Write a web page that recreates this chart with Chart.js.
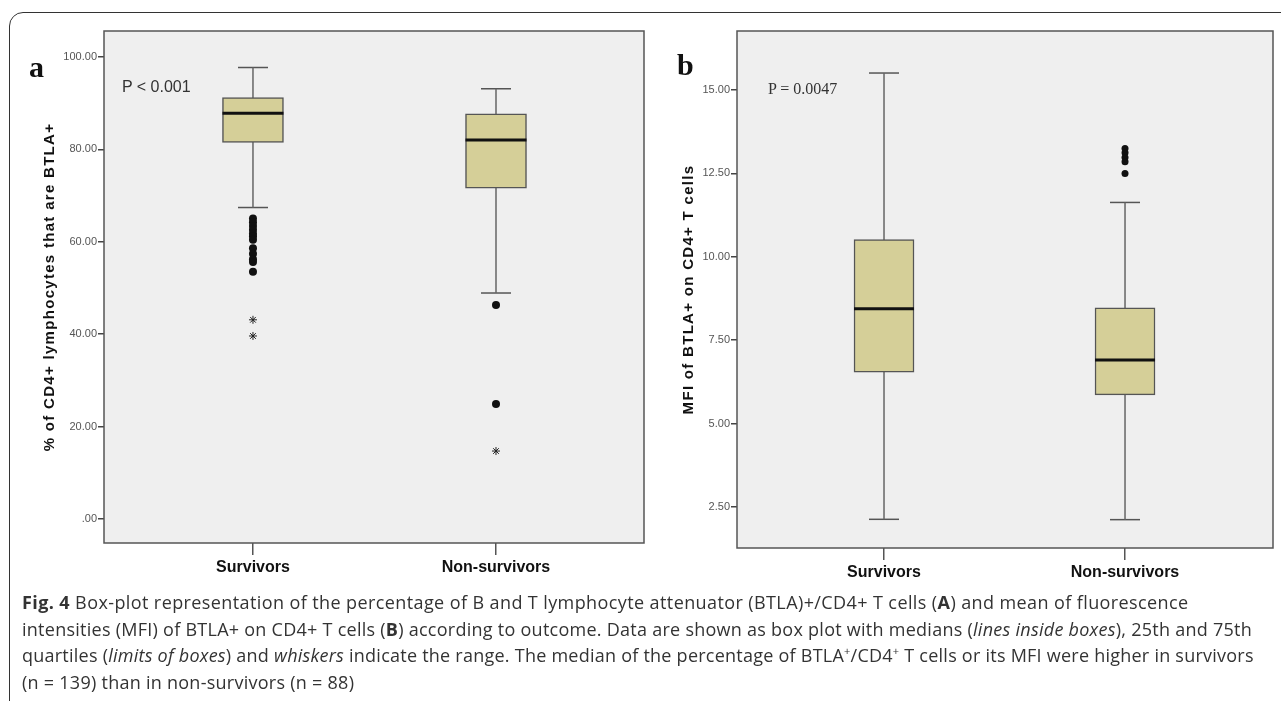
<!DOCTYPE html>
<html>
<head>
<meta charset="utf-8">
<script src="https://cdn.jsdelivr.net/npm/chart.js@4.4.1/dist/chart.umd.min.js"></script>
<style>
  html, body { margin: 0; padding: 0; background: #fff; }
  body { width: 1281px; height: 701px; position: relative; overflow: hidden; }
  .frame { position: absolute; left: 9px; top: 12px; width: 1300px; height: 720px;
           border: 1.5px solid #333; border-radius: 14px; box-sizing: border-box; }
  canvas { position: absolute; top: 0; }
  .panel { position: absolute; font-family: "Liberation Serif", "Times New Roman", serif; font-weight: bold; color: #111; }
  .pval { position: absolute; color: #333; }
  .caption { position: absolute; left: 22px; top: 589px; font-family: "Open Sans", "Noto Sans", sans-serif;
             font-size: 18px; letter-spacing: 0.26px; line-height: 26.6px; color: #333; white-space: nowrap; }
  .caption sup { font-size: 11px; line-height: 0; }
</style>
</head>
<body>
<div class="frame"></div>
<canvas id="chartA" width="660" height="590" style="left:0"></canvas>
<canvas id="chartB" width="641" height="590" style="left:640px"></canvas>

<div class="panel" style="left:29px; top:50px; font-size:30px;">a</div>
<div class="panel" style="left:677px; top:48px; font-size:30px;">b</div>
<div class="pval" style="left:122px; top:78px; font-family:'Liberation Sans', Arial, sans-serif; font-size:16px;">P &lt; 0.001</div>
<div class="pval" style="left:768px; top:80px; font-family:'Liberation Serif', 'Times New Roman', serif; font-size:16px;">P = 0.0047</div>

<div class="caption">
  <div style="letter-spacing:0.4px"><b>Fig. 4</b> Box-plot representation of the percentage of B and T lymphocyte attenuator (BTLA)+/CD4+ T cells (<b>A</b>) and mean of fluorescence</div>
  <div>intensities (MFI) of BTLA+ on CD4+ T cells (<b>B</b>) according to outcome. Data are shown as box plot with medians (<i>lines inside boxes</i>), 25th and 75th</div>
  <div style="letter-spacing:0.24px">quartiles (<i>limits of boxes</i>) and <i>whiskers</i> indicate the range. The median of the percentage of BTLA<sup>+</sup>/CD4<sup>+</sup> T cells or its MFI were higher in survivors</div>
  <div>(n = 139) than in non-survivors (n = 88)</div>
</div>

<script>
// categorías
const categories = ["Survivors", "Non-survivors"];

// panel a: % of CD4+ lymphocytes that are BTLA+
const pctMin = [67.4, 48.9];
const pctQ1 = [81.5, 71.6];
const pctMedian = [87.8, 82.0];
const pctQ3 = [91.2, 87.7];
const pctMax = [97.7, 93.1];
const pctOutliers = [
  [65.0, 64.2, 63.4, 62.6, 61.8, 61.2, 60.4, 58.6, 57.4, 56.2, 55.6, 53.5],
  [46.3, 24.9]
];
const pctExtremes = [[43.1, 39.6], [14.7]];
const pctTicks = [0, 20, 40, 60, 80, 100];

// panel b: MFI of BTLA+ on CD4+ T cells
const mfiMin = [2.13, 2.12];
const mfiQ1 = [6.54, 5.86];
const mfiMedian = [8.44, 6.91];
const mfiQ3 = [10.52, 8.47];
const mfiMax = [15.51, 11.63];
const mfiOutliers = [[], [13.25, 13.12, 12.98, 12.85, 12.5]];
const mfiExtremes = [[], []];
const mfiTicks = [2.5, 5, 7.5, 10, 12.5, 15];

Chart.defaults.font.family = "'Liberation Sans', Arial, sans-serif";
Chart.defaults.animation = false;

// fondo gris, marco del área de trazado y espaciado del título del eje
const plotFrame = {
  id: "plotFrame",
  beforeDraw(chart) {
    const { ctx, chartArea: a } = chart;
    ctx.save();
    ctx.fillStyle = "#efefef";
    ctx.fillRect(a.left, a.top, a.right - a.left, a.bottom - a.top);
    ctx.restore();
    ctx.letterSpacing = "1.3px"; // solo afecta al título (las etiquetas van en z:1)
  },
  beforeDatasetsDraw(chart) {
    chart.ctx.letterSpacing = "0px";
  },
  afterDraw(chart) {
    const { ctx, chartArea: a } = chart;
    ctx.save();
    ctx.strokeStyle = "#555";
    ctx.lineWidth = 1.5;
    ctx.strokeRect(a.left, a.top, a.right - a.left, a.bottom - a.top);
    ctx.restore();
  }
};

function pointsOf(list) {
  const pts = [];
  list.forEach((vals, i) => vals.forEach(v => pts.push({ x: i, y: v })));
  return pts;
}

function buildBoxChart(canvasId, d) {
  // bigotes: una línea de min a max por categoría (la caja tapa el tramo central)
  const whiskers = [];
  categories.forEach((c, i) => {
    whiskers.push({ x: i, y: d.max[i] }, { x: i, y: d.min[i] }, { x: i, y: null });
  });
  const caps = [];
  categories.forEach((c, i) => caps.push({ x: i, y: d.max[i] }, { x: i, y: d.min[i] }));

  return new Chart(document.getElementById(canvasId), {
    type: "bar",
    data: {
      datasets: [
        {
          type: "line", showLine: false,
          data: categories.map((c, i) => ({ x: i, y: d.median[i] })),
          pointStyle: "line", pointRadius: d.boxWidth / 2, pointBorderWidth: 3,
          pointBorderColor: "#111", order: 0
        },
        {
          type: "bar",
          data: categories.map((c, i) => ({ x: i, y: [d.q1[i], d.q3[i]] })),
          backgroundColor: "#d5cf98", borderColor: "#555", borderWidth: 1.5,
          borderSkipped: false, barThickness: d.boxWidth, order: 1
        },
        {
          type: "line", data: whiskers, borderColor: "#666", borderWidth: 1.5,
          pointRadius: 0, spanGaps: false, order: 2
        },
        {
          type: "line", showLine: false, data: caps,
          pointStyle: "line", pointRadius: 15, pointBorderWidth: 1.5,
          pointBorderColor: "#555", order: 2
        },
        {
          type: "line", showLine: false, data: pointsOf(d.outliers),
          pointStyle: "circle", pointRadius: d.dotRadius, pointBorderWidth: 0,
          pointBackgroundColor: "#111", order: 3
        },
        {
          type: "line", showLine: false, data: pointsOf(d.extremes),
          pointStyle: "star", pointRadius: 4, pointBorderWidth: 1,
          pointBorderColor: "#222", order: 3
        }
      ]
    },
    options: {
      responsive: false,
      events: [],
      layout: { autoPadding: false, padding: { left: 0, top: 31, right: d.padRight, bottom: 0 } },
      plugins: { legend: { display: false }, tooltip: { enabled: false } },
      scales: {
        x: {
          type: "linear", min: d.xMin, max: d.xMax, offset: false,
          afterBuildTicks: s => { s.ticks = categories.map((c, i) => ({ value: i })); },
          afterFit: s => { s.height = d.xHeight; },
          grid: { offset: false, drawOnChartArea: false, tickLength: 12, color: "#555", lineWidth: 1.5 },
          border: { display: false },
          ticks: {
            z: 1, padding: 3, color: "#111", maxRotation: 0,
            font: { size: 16, weight: "bold" },
            callback: v => categories[v]
          }
        },
        y: {
          min: d.yMin, max: d.yMax,
          afterBuildTicks: s => { s.ticks = d.ticks.map(v => ({ value: v })); },
          afterFit: s => { s.width = d.yWidth; },
          grid: { drawOnChartArea: false, tickLength: 6, color: "#444", lineWidth: 1.5 },
          border: { display: false },
          ticks: {
            z: 1, padding: 1, color: "#555",
            font: { size: 11 },
            callback: d.tickFormat
          },
          title: {
            display: true, text: d.title, color: "#111",
            font: { size: 15, weight: "bold" },
            padding: { top: d.titlePad, bottom: 0 }
          }
        }
      }
    },
    plugins: [plotFrame]
  });
}

buildBoxChart("chartA", {
  min: pctMin, q1: pctQ1, median: pctMedian, q3: pctQ3, max: pctMax,
  outliers: pctOutliers, extremes: pctExtremes, ticks: pctTicks,
  yMin: -5.2, yMax: 105.6, xMin: -0.613, xMax: 1.609,
  boxWidth: 61, dotRadius: 4, padRight: 16, xHeight: 47, yWidth: 104, titlePad: 41,
  title: "% of CD4+ lymphocytes that are BTLA+",
  tickFormat: v => (v === 0 ? ".00" : v.toFixed(2))
});

buildBoxChart("chartB", {
  min: mfiMin, q1: mfiQ1, median: mfiMedian, q3: mfiQ3, max: mfiMax,
  outliers: mfiOutliers, extremes: mfiExtremes, ticks: mfiTicks,
  yMin: 1.27, yMax: 16.77, xMin: -0.61, xMax: 1.614,
  boxWidth: 60, dotRadius: 3.5, padRight: 8, xHeight: 42, yWidth: 97, titlePad: 40,
  title: "MFI of BTLA+ on CD4+ T cells",
  tickFormat: v => v.toFixed(2)
});
</script>
</body>
</html>
